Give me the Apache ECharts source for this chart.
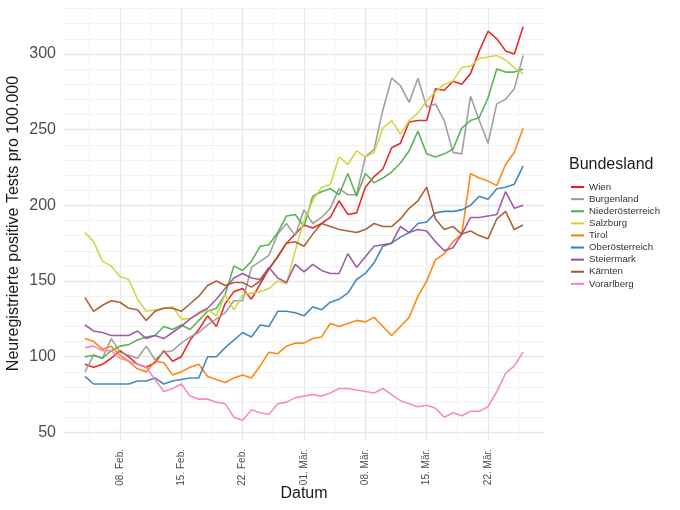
<!DOCTYPE html>
<html><head><meta charset="utf-8">
<script src="https://cdn.jsdelivr.net/npm/echarts@6/dist/echarts.min.js"></script>
<style>html,body{margin:0;padding:0;background:#fff}#c{width:680px;height:510px}</style>
</head><body><div id="c"></div>
<script>
// ---- data ----
const startDate = '2021-02-04';
const nDays = 51; // 04. Feb. .. 26. Mär.
const tickDates = ['2021-02-08','2021-02-15','2021-02-22','2021-03-01','2021-03-08','2021-03-15','2021-03-22'];
const tickLabels = ['08. Feb.','15. Feb.','22. Feb.','01. Mär.','08. Mär.','15. Mär.','22. Mär.'];
const yTicks = [50,100,150,200,250,300];
const yMinor = [60,70,80,90,110,120,130,140,160,170,180,190,210,220,230,240,260,270,280,290,310,320,330];
const names = ['Wien','Burgenland','Niederösterreich','Salzburg','Tirol','Oberösterreich','Steiermark','Kärnten','Vorarlberg'];
const colors = ['#e41a1c','#999999','#4daf4a','#d2d23c','#ff7f00','#377eb8','#984ea3','#a65628','#f781bf'];

const wien = [95,93,95,99,104,100,95,93,96,104,97,100,111,118,127,120,135,143,145,138,148,158,166,175,181,187,185,188,192,203,194,195,212,219,224,238,241,255,256,256,277,276,282,280,287,302,315,310,302,300,318];
const burgenland = [90,101,99,112,103,101,99,107,98,103,104,109,113,116,121,125,129,137,137,159,163,167,181,188,180,197,188,192,198,211,207,207,232,237,263,284,279,268,284,265,267,256,235,234,272,256,241,267,270,277,299];
const niederoesterreich = [100,101,99,104,107,108,111,113,114,120,118,121,118,124,130,132,141,160,157,163,173,174,182,193,194,186,206,209,211,207,221,206,221,215,218,222,228,236,249,234,232,234,237,251,256,258,271,290,288,288,290];
const salzburg = [182,176,163,160,153,151,138,130,131,132,133,125,125,128,131,127,141,131,141,142,143,145,150,148,170,190,203,212,214,232,227,236,232,235,251,256,247,256,261,269,275,280,282,291,292,297,298,299,296,291,287];
const tirol = [112,110,105,107,101,97,92,90,97,96,88,90,93,95,87,85,83,86,88,86,94,103,102,107,109,109,112,113,122,120,122,124,123,126,120,114,120,126,140,150,164,168,176,181,221,218,216,213,227,235,251];
const oberoesterreich = [87,82,82,82,82,82,84,84,86,82,84,85,86,86,100,100,106,111,116,113,121,120,130,130,129,127,133,131,136,138,142,151,155,162,173,175,179,182,188,189,195,196,196,197,200,206,204,211,212,214,226];
const steiermark = [121,117,116,114,114,114,117,112,114,112,116,120,125,129,132,138,145,152,155,152,151,159,152,149,161,156,161,157,155,155,168,159,166,173,174,175,186,182,184,183,176,170,172,181,192,192,193,194,209,198,200];
const kaernten = [139,130,134,137,136,132,131,124,130,132,132,130,135,140,147,150,147,149,149,146,150,158,166,175,176,173,181,188,186,184,183,182,184,188,186,186,191,198,203,212,191,184,186,181,183,180,178,191,196,184,187];
const vorarlberg = [106,107,104,104,99,97,95,93,85,77,79,82,74,72,72,70,69,60,58,65,63,62,69,70,73,74,75,74,76,79,79,78,77,76,79,75,71,69,67,68,66,60,63,61,64,64,67,77,89,94,103];
const seriesValues = [wien,burgenland,niederoesterreich,salzburg,tirol,oberoesterreich,steiermark,kaernten,vorarlberg];

// ---- helpers ----
const DAY = 86400000;
const t0 = Date.parse(startDate);
const dates = [];
for (let i = 0; i < nDays; i++) dates.push(new Date(t0 + i*DAY).toISOString().slice(0,10));
const dayIndex = d => Math.round((Date.parse(d) - t0) / DAY);
const majorX = tickDates.map(dayIndex);
const minorX = majorX.map(v => v - 3.5).concat([majorX[majorX.length-1] + 3.5]);
const xMin = -2.5, xMax = nDays - 1 + 2.5;
const yMin = 45, yMax = 331;
const FONT = 'Liberation Sans, Arial, sans-serif';

const chart = echarts.init(document.getElementById('c'), null, {renderer:'canvas'});
chart.setOption({
  animation: false,
  backgroundColor: '#ffffff',
  title: {text:'Bundesland', left:569, top:157, padding:0,
    textStyle:{fontSize:16, fontWeight:'normal', color:'#1a1a1a', fontFamily:FONT}},
  legend: {orient:'vertical', left:571, top:181, padding:0, itemWidth:13, itemHeight:2, icon:'rect', itemGap:0,
    textStyle:{fontSize:9.7, lineHeight:12.1, color:'#333333', fontFamily:FONT}, data:names},
  grid: {left:63, right:135, top:7, bottom:70, containLabel:false, outerBoundsMode:'none'},
  xAxis: [
    {type:'value', min:xMin, max:xMax, name:'Datum', nameLocation:'middle', nameGap:46, nameMoveOverlap:false,
     nameTextStyle:{fontSize:16, color:'#1a1a1a', fontFamily:FONT},
     axisLine:{show:false}, axisTick:{show:false, customValues:majorX},
     axisLabel:{customValues:majorX, rotate:90, margin:9, fontSize:10, color:'#4d4d4d', fontFamily:FONT,
       formatter: v => { const k = majorX.indexOf(Math.round(v)); return k >= 0 ? tickLabels[k] : ''; }},
     splitLine:{show:true, lineStyle:{color:'#e8e8e8', width:1.4}}},
    {type:'value', min:xMin, max:xMax, position:'bottom',
     axisLine:{show:false}, axisTick:{show:false, customValues:minorX}, axisLabel:{show:false, customValues:minorX},
     splitLine:{show:true, lineStyle:{color:'#f2f2f2', width:1}}}
  ],
  yAxis: [
    {type:'value', min:yMin, max:yMax, name:'Neuregistrierte positive Tests pro 100.000', nameLocation:'middle', nameGap:41, nameMoveOverlap:false,
     nameTextStyle:{fontSize:16, color:'#1a1a1a', fontFamily:FONT},
     axisLine:{show:false}, axisTick:{show:false, customValues:yTicks},
     axisLabel:{customValues:yTicks, margin:7, fontSize:16, color:'#4d4d4d', fontFamily:FONT},
     splitLine:{show:true, lineStyle:{color:'#e8e8e8', width:1.4}}},
    {type:'value', min:yMin, max:yMax, position:'left',
     axisLine:{show:false}, axisTick:{show:false, customValues:yMinor}, axisLabel:{show:false, customValues:yMinor},
     splitLine:{show:true, lineStyle:{color:'#f2f2f2', width:1}}}
  ],
  series: names.map((n, k) => ({
    name:n, type:'line', xAxisIndex:0, yAxisIndex:0, showSymbol:false, symbol:'none',
    color: colors[k],
    lineStyle:{width:1.6, color:colors[k], opacity:0.92},
    data: dates.map((d, i) => [dayIndex(d), seriesValues[k][i]])
  }))
});
</script></body></html>
